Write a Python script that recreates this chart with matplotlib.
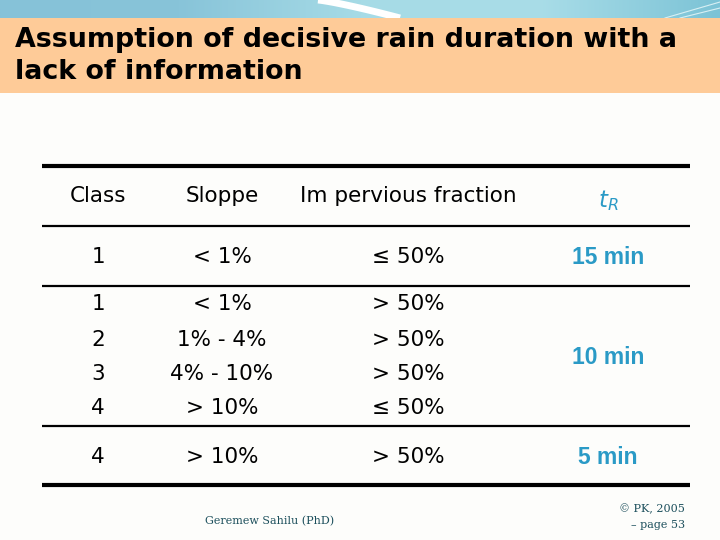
import numpy as np
import matplotlib
matplotlib.use("Agg")
import matplotlib.pyplot as plt
from matplotlib.patches import Rectangle
from matplotlib.colors import LinearSegmentedColormap

title_lines = ["Assumption of decisive rain duration with a", "lack of information"]
headers = ["Class", "Sloppe", "Im pervious fraction"]
classes = ["1", "1", "2", "3", "4", "4"]
slopes = ["< 1%", "< 1%", "1% - 4%", "4% - 10%", "> 10%", "> 10%"]
impervious = ["\u2264 50%", "> 50%", "> 50%", "> 50%", "\u2264 50%", "> 50%"]
tr_values = ["15 min", "10 min", "5 min"]
footer_left = "Geremew Sahilu (PhD)"
footer_right = ["\u00a9 PK, 2005", "\u2013 page 53"]

W, H = 720, 540
fig = plt.figure(figsize=(7.2, 5.4), dpi=100)
ax = fig.add_axes([0, 0, 1, 1])
ax.set_xlim(0, W)
ax.set_ylim(H, 0)
ax.axis("off")
fig.patch.set_facecolor("#fdfdfb")

grad = np.linspace(0, 1, 256)[None, :]
cmap = LinearSegmentedColormap.from_list("b", ["#86c2d8", "#88c4d9", "#a6dbe6", "#a9dde8", "#7cc3d6"])
ax.imshow(grad, extent=(0, W, 18, 0), aspect="auto", cmap=cmap, zorder=0)
sx = np.linspace(318, 400, 50)
ax.plot(sx, ((sx - 318) / 82) ** 1.2 * 18, color="white", lw=5, zorder=1, solid_capstyle="butt")
ax.plot([665, 720], [18, 2], color="#d8f0f4", lw=0.8, zorder=1)
ax.plot([680, 720], [18, 8], color="#d8f0f4", lw=0.8, zorder=1)
ax.add_patch(Rectangle((0, 18), W, 75, facecolor="#fecb98", edgecolor="none", zorder=2))

tfam = ["DejaVu Sans"]
ax.text(15, 40, title_lines[0], fontsize=19.4, fontweight="bold", family=tfam,
        va="center", ha="left", zorder=3)
ax.text(15, 72, title_lines[1], fontsize=19.4, fontweight="bold", family=tfam,
        va="center", ha="left", zorder=3)

x0, x1 = 42, 690
ax.plot([x0, x1], [165.5, 165.5], color="black", lw=3.0, solid_capstyle="butt")
ax.plot([x0, x1], [225.5, 225.5], color="black", lw=1.6, solid_capstyle="butt")
ax.plot([x0, x1], [285.5, 285.5], color="black", lw=1.6, solid_capstyle="butt")
ax.plot([x0, x1], [425.5, 425.5], color="black", lw=1.6, solid_capstyle="butt")
ax.plot([x0, x1], [485, 485], color="black", lw=3.0, solid_capstyle="butt")

fam = ["DejaVu Sans"]
cx = [98, 222, 408]
fs = 15.5
for x, h in zip(cx, headers):
    ax.text(x, 196, h, fontsize=fs, family=fam, ha="center", va="center")
blue = "#2a9ac6"
ax.text(608, 201, r"$\mathsf{\mathit{t}}_{\mathsf{\mathit{R}}}$", fontsize=fs + 1, color=blue,
        ha="center", va="center")

row_y = [257, 304, 340, 374, 408, 457]
for y, c, s, imp in zip(row_y, classes, slopes, impervious):
    ax.text(cx[0], y, c, fontsize=fs, family=fam, ha="center", va="center")
    ax.text(cx[1], y, s, fontsize=fs, family=fam, ha="center", va="center")
    ax.text(cx[2], y, imp, fontsize=fs, family=fam, ha="center", va="center")

tr_y = [257, 357, 457]
for y, t in zip(tr_y, tr_values):
    ax.text(608, y, t, fontsize=16.5, family=["Liberation Sans", "DejaVu Sans"],
            fontweight="bold", color=blue, ha="center", va="center")

teal = "#1c4f5c"
ax.text(270, 521, footer_left, fontsize=8, family="DejaVu Serif", color=teal,
        ha="center", va="center")
ax.text(685, 509, footer_right[0], fontsize=8, family="DejaVu Serif", color=teal,
        ha="right", va="center")
ax.text(685, 525, footer_right[1], fontsize=8, family="DejaVu Serif", color=teal,
        ha="right", va="center")

fig.savefig("out.png", dpi=100, facecolor=fig.get_facecolor())
